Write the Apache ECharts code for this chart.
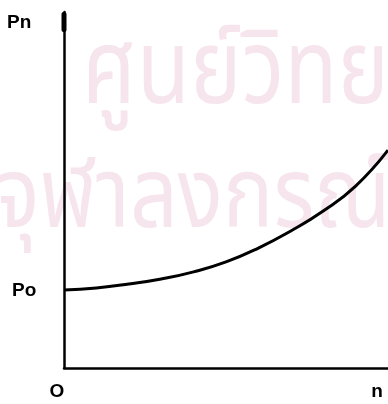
<!DOCTYPE html>
<html>
<head>
<meta charset="utf-8">
<script src="https://cdn.jsdelivr.net/npm/echarts@6/dist/echarts.min.js"></script>
<style>
  html, body { margin: 0; padding: 0; background: #ffffff; }
  #chart { width: 388px; height: 404px; }
</style>
</head>
<body>
<div id="chart"></div>
<script>
// Growth of P with n: P starts at Po when n = 0 and rises ever faster.
const nValues = [0, 1, 2, 3, 4, 5, 6, 7, 8, 9, 10];
const pValues = [21.9, 22.5, 23.6, 25.0, 27.0, 29.8, 33.7, 38.5, 44.1, 51.1, 61.2];

// Axis labels
const yAxisTitle = 'Pn';
const startLabel = 'Po';
const originLabel = 'O';
const xAxisTitle = 'n';

// Background stamp text
const stampLines = ['ศูนย์วิทย', 'จุฬาลงกรณ์'];

const chart = echarts.init(document.getElementById('chart'), null, { renderer: 'canvas' });

const axisLine = { show: true, lineStyle: { color: '#000', width: 2.5 } };

const option = {
  backgroundColor: '#ffffff',
  animation: false,
  grid: { left: 64, right: 0, top: 12, bottom: 36 },
  xAxis: {
    type: 'value', min: 0, max: 10,
    axisLine: axisLine, axisTick: { show: false },
    axisLabel: { show: false }, splitLine: { show: false }
  },
  yAxis: {
    type: 'value', min: 0, max: 100,
    axisLine: axisLine, axisTick: { show: false },
    axisLabel: { show: false }, splitLine: { show: false }
  },
  series: [{
    type: 'line',
    data: nValues.map((n, i) => [n, pValues[i]]),
    smooth: true,
    showSymbol: false,
    lineStyle: { color: '#000', width: 3 },
    z: 5
  }]
};
chart.setOption(option);

// Place labels relative to the axes
const originPx = chart.convertToPixel({ gridIndex: 0 }, [0, 0]);
const endPx = chart.convertToPixel({ gridIndex: 0 }, [10, 0]);
const axisTopPx = chart.convertToPixel({ gridIndex: 0 }, [0, 100]);
const startPx = chart.convertToPixel({ gridIndex: 0 }, [0, pValues[0]]);
const labelFont = 'bold 19px "Liberation Sans", Arial, sans-serif';
const stampColor = '#f6e5ed';

chart.setOption({
  graphic: [
    { type: 'text', z: -10, x: 82, y: 30, scaleY: 1.2, silent: true,
      style: { text: stampLines[0], font: '87px "Noto Sans Thai", "Noto Sans", sans-serif',
               fill: stampColor, textVerticalAlign: 'top' } },
    { type: 'text', z: -10, x: -5, y: 158, scaleY: 1.17, silent: true,
      style: { text: stampLines[1], font: '84px "Noto Sans Thai", "Noto Sans", sans-serif',
               fill: stampColor, textVerticalAlign: 'top' } },
    // heavier stroke at the head of the vertical axis
    { type: 'rect', z: 10, shape: { x: axisTopPx[0] - 2.5, y: axisTopPx[1], width: 5, height: 20, r: 2 },
      style: { fill: '#000' } },
    { type: 'text', x: 7, y: 23, style: { text: yAxisTitle, font: labelFont, fill: '#000', textVerticalAlign: 'middle' } },
    { type: 'text', x: 12, y: startPx[1] + 1, style: { text: startLabel, font: labelFont, fill: '#000', textVerticalAlign: 'middle' } },
    { type: 'text', x: originPx[0] - 7, y: originPx[1] + 24, style: { text: originLabel, font: labelFont, fill: '#000', textAlign: 'center', textVerticalAlign: 'middle' } },
    { type: 'text', x: endPx[0] - 11, y: endPx[1] + 24, style: { text: xAxisTitle, font: labelFont, fill: '#000', textAlign: 'center', textVerticalAlign: 'middle' } }
  ]
});
</script>
</body>
</html>
